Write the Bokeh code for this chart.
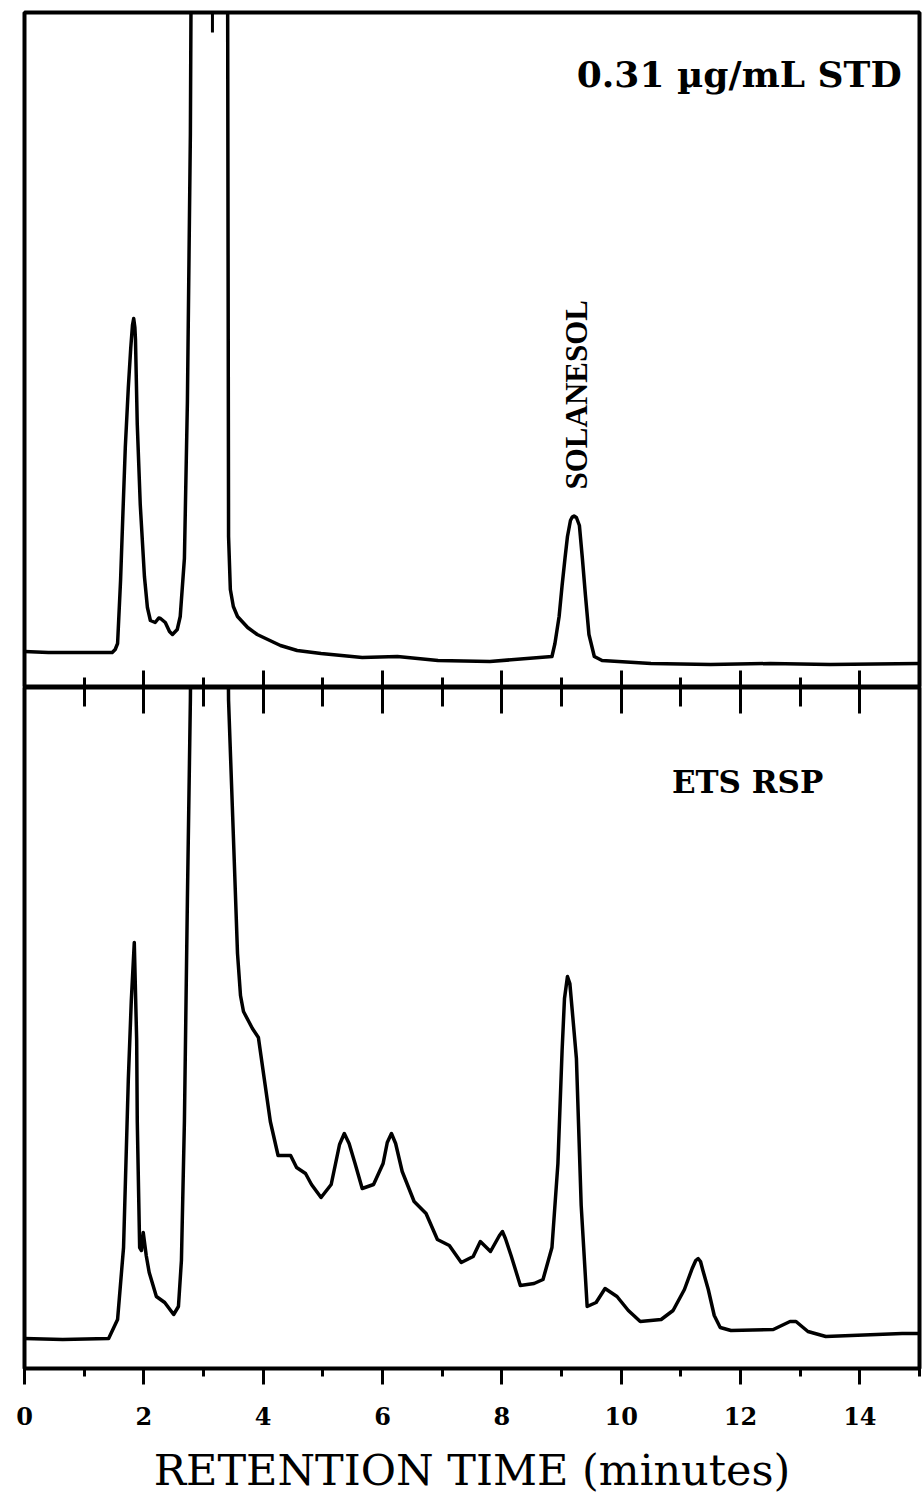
import numpy as np
from bokeh.plotting import figure
from bokeh.models import LinearAxis, FixedTicker, Range1d, Label
from bokeh.layouts import column
from bokeh.embed import file_html
from bokeh.resources import INLINE

# ---------------- data ----------------
# upper trace: 0.31 ug/mL solanesol standard
std_time = [0.00, 0.40, 0.80, 1.20, 1.47, 1.52, 1.56, 1.61, 1.65, 1.69, 1.74, 1.78,
            1.81, 1.83, 1.85, 1.86, 1.89, 1.94, 2.01, 2.06, 2.11, 2.19, 2.25, 2.28,
            2.36, 2.43, 2.48, 2.56, 2.61, 2.68, 2.73, 2.78, 2.80, 3.10, 3.40, 3.41,
            3.42, 3.45, 3.50, 3.57, 3.74, 3.90, 4.29, 4.57, 4.97, 5.66, 6.25, 6.93, 7.80,
            8.84, 8.89, 8.96, 9.01, 9.06, 9.10, 9.15, 9.18, 9.21, 9.25, 9.30, 9.35,
            9.40, 9.46, 9.55, 9.68, 10.50, 11.50, 12.50, 13.50, 15.00]
std_signal = [7.2, 7.0, 7.0, 7.0, 7.0, 7.6, 8.8, 21.4, 35.0, 48.2, 60.0, 67.8,
              72.5, 73.8, 72.0, 69.6, 52.6, 36.6, 22.2, 16.0, 13.4, 13.0, 13.9, 13.8,
              13.0, 11.2, 10.6, 11.6, 14.2, 25.8, 57.0, 110.6, 160.0, 400.0, 170.0, 100.0,
              30.2, 19.6, 16.2, 14.2, 12.0, 10.6, 8.4, 7.4, 6.8, 6.0, 6.2, 5.4, 5.2,
              6.2, 8.8, 14.2, 20.4, 26.0, 30.2, 33.4, 34.1, 34.3, 34.0, 32.4, 25.8,
              18.6, 10.6, 6.2, 5.4, 4.8, 4.6, 4.8, 4.6, 4.8]

# lower trace: ETS RSP sample
ets_time = [0.00, 0.64, 1.41, 1.56, 1.66, 1.74, 1.79, 1.84, 1.88, 1.89, 1.93, 1.96,
            1.99, 2.04, 2.09, 2.21, 2.35, 2.50, 2.58, 2.63, 2.68, 2.73, 2.78, 2.80,
            3.10, 3.40, 3.42, 3.47, 3.52, 3.57, 3.62, 3.67, 3.82, 3.92, 4.02, 4.12,
            4.25, 4.46, 4.56, 4.71, 4.81, 4.97, 5.14, 5.28, 5.36, 5.44, 5.54, 5.66,
            5.85, 6.01, 6.08, 6.15, 6.22, 6.33, 6.53, 6.73, 6.92, 7.12, 7.32, 7.52,
            7.64, 7.81, 7.96, 8.01, 8.06, 8.16, 8.31, 8.54, 8.69, 8.84, 8.94, 9.01,
            9.05, 9.10, 9.14, 9.18, 9.25, 9.33, 9.43, 9.58, 9.73, 9.93, 10.12, 10.32,
            10.67, 10.87, 11.06, 11.19, 11.25, 11.29, 11.33, 11.37, 11.46, 11.56, 11.66,
            11.84, 12.55, 12.83, 12.93, 13.13, 13.43, 14.71, 15.00]
ets_signal = [6.0, 5.8, 6.0, 9.8, 24.2, 57.8, 73.6, 85.2, 65.6, 49.4, 24.2, 23.6,
              27.2, 22.6, 19.2, 14.4, 13.2, 10.8, 12.4, 21.6, 49.4, 93.6, 133.6, 160.0,
              400.0, 160.0, 133.6, 116.8, 100.0, 83.0, 74.6, 71.4, 68.0, 66.2, 57.8, 49.4,
              42.6, 42.6, 40.2, 39.0, 36.8, 34.2, 36.8, 44.8, 47.0, 45.0, 41.0, 36.0,
              36.8, 41.0, 45.2, 47.0, 45.0, 39.4, 33.4, 31.0, 25.8, 24.6, 21.2, 22.4,
              25.4, 23.4, 26.6, 27.4, 26.0, 22.4, 16.6, 17.0, 17.8, 24.2, 41.0, 63.6,
              74.0, 78.4, 77.0, 71.6, 62.0, 32.6, 12.4, 13.2, 16.0, 14.4, 11.6, 9.4,
              9.8, 11.6, 15.8, 20.0, 21.6, 22.0, 21.4, 19.6, 15.8, 10.6, 8.2,
              7.6, 7.8, 9.4, 9.4, 7.4, 6.4, 7.0, 7.0]

top_marker_time = [3.15]

major_ticks = [0, 2, 4, 6, 8, 10, 12, 14]
minor_ticks = [1, 3, 5, 7, 9, 11, 13, 15]

x_label = "RETENTION TIME (minutes)"
std_label = "0.31 µg/mL STD"
ets_label = "ETS RSP"
peak_label = "SOLANESOL"

SERIF = "DejaVu Serif"
W = 923
LW = 3.5
FRAME_W = 4


def tick_only_axis(tick_values, tick_len):
    """An axis that only draws inward tick marks (no line, no labels)."""
    return LinearAxis(ticker=FixedTicker(ticks=[], minor_ticks=tick_values),
                      minor_tick_in=tick_len, minor_tick_out=0,
                      major_tick_in=0, major_tick_out=0,
                      minor_tick_line_width=3, minor_tick_line_color="black",
                      major_label_standoff=0, axis_label_standoff=0,
                      axis_line_color=None)


# ---------------- upper panel ----------------
p1 = figure(width=W, height=687, x_range=Range1d(0, 15), y_range=Range1d(0, 135),
            output_backend="svg", toolbar_location=None,
            x_axis_location=None, y_axis_location=None,
            min_border=0, min_border_left=24, min_border_right=4,
            min_border_top=12, min_border_bottom=0)
p1.grid.visible = False
p1.outline_line_color = "black"
p1.outline_line_width = FRAME_W
p1.background_fill_color = "white"
p1.border_fill_color = "white"
p1.line(std_time, std_signal, line_color="black", line_width=LW, line_join="round")
p1.segment(x0=top_marker_time, y0=[p1.y_range.end] * len(top_marker_time),
           x1=top_marker_time, y1=[p1.y_range.end - 4] * len(top_marker_time),
           line_color="black", line_width=3)
p1.add_layout(tick_only_axis(major_ticks, 17), "below")
p1.add_layout(tick_only_axis(minor_ticks, 10), "below")

p1.add_layout(Label(x=14.70, y=122.8, text=std_label, text_align="right",
                    text_baseline="alphabetic", text_font=SERIF,
                    text_font_style="bold",
                    text_font_size="36px", text_color="black"))
p1.add_layout(Label(x=9.25, y=39.6, text=peak_label, angle=90, angle_units="deg",
                    text_align="left", text_baseline="alphabetic",
                    text_font="Liberation Serif", text_font_style="bold",
                    text_font_size="31px", text_color="black"))

# ---------------- lower panel ----------------
p2 = figure(width=W, height=825, x_range=p1.x_range, y_range=Range1d(0, 136.2),
            output_backend="svg", toolbar_location=None, y_axis_location=None,
            min_border=0, min_border_left=24, min_border_right=4,
            min_border_top=0, min_border_bottom=144)
p2.grid.visible = False
p2.outline_line_color = "black"
p2.outline_line_width = FRAME_W
p2.background_fill_color = "white"
p2.border_fill_color = "white"
p2.line(ets_time, ets_signal, line_color="black", line_width=LW, line_join="round")

p2.add_layout(tick_only_axis(major_ticks, 26), "above")
p2.add_layout(tick_only_axis(minor_ticks, 19), "above")

bx = p2.below[0]
bx.ticker = FixedTicker(ticks=major_ticks, minor_ticks=minor_ticks)
bx.major_tick_in = 0
bx.major_tick_out = 16
bx.minor_tick_in = 0
bx.minor_tick_out = 8
bx.major_tick_line_width = 3
bx.minor_tick_line_width = 3
bx.major_tick_line_color = "black"
bx.minor_tick_line_color = "black"
bx.axis_line_color = None
bx.major_label_text_font = SERIF
bx.major_label_text_font_style = "bold"
bx.major_label_text_font_size = "24px"
bx.major_label_text_color = "black"
bx.major_label_standoff = 22
bx.axis_label = x_label
bx.axis_label_text_font = SERIF
bx.axis_label_text_font_style = "normal"
bx.axis_label_text_font_size = "43px"
bx.axis_label_text_color = "black"
bx.axis_label_standoff = 17

p2.add_layout(Label(x=10.85, y=117.4, text=ets_label, text_align="left",
                    text_baseline="alphabetic", text_font=SERIF,
                    text_font_style="bold",
                    text_font_size="31px", text_color="black"))

layout = column(p1, p2, spacing=0)
open("out.html", "w").write(file_html(layout, INLINE))
